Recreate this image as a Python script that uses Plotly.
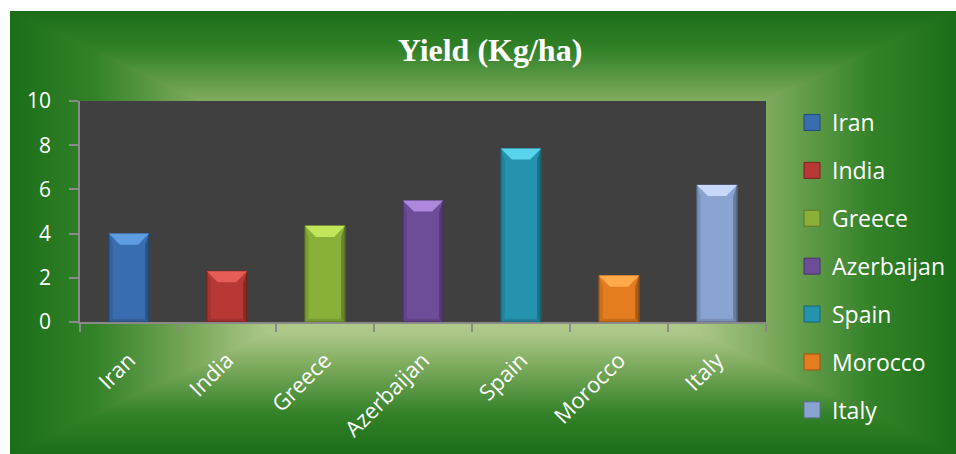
import base64
import plotly.graph_objects as go

countries = ["Iran", "India", "Greece", "Azerbaijan", "Spain", "Morocco", "Italy"]
yield_kg_ha = [4.0, 2.3, 4.35, 5.5, 7.85, 2.1, 6.2]
y_ticks = [0, 2, 4, 6, 8, 10]

body_colors = ["#3a6db0", "#b83836", "#8bb03a", "#6e4d98", "#2593ae", "#e47c20", "#8aa4d2"]
top_colors = ["#5e9de2", "#e65c57", "#c2e65a", "#ad88dd", "#5ad4ec", "#ffaa4a", "#c8d8f8"]
edge_colors = ["#244a7c", "#7c2321", "#5d7726", "#4a3368", "#186478", "#9e5414", "#5d7092"]

# ---- background: rectangular "from centre" gradient as SVG ----
W, H = 946, 443
stops = [(0, "#1b6e18"), (0.18, "#338229"), (0.37, "#74a556"), (0.54, "#abc686"),
         (0.7, "#bcd29a"), (1, "#c4d8a4")]
def grad(gid, x1, y1, x2, y2):
    s = "".join(f'<stop offset="{o}" stop-color="{c}"/>' for o, c in stops)
    return (f'<linearGradient id="{gid}" gradientUnits="userSpaceOnUse" '
            f'x1="{x1}" y1="{y1}" x2="{x2}" y2="{y2}">{s}</linearGradient>')
cx, cy = W / 2, H / 2
def tri(pts, gid):
    return (f'<polygon points="{pts}" fill="url(#{gid})" stroke="url(#{gid})" '
            f'stroke-width="1.5" stroke-linejoin="round"/>')
svg = (f'<svg xmlns="http://www.w3.org/2000/svg" width="{W}" height="{H}" '
       f'viewBox="0 0 {W} {H}" preserveAspectRatio="none"><defs>'
       + grad("t", 0, 0, 0, cy) + grad("b", 0, H, 0, cy)
       + grad("l", 0, 0, cx, 0) + grad("r", W, 0, cx, 0) +
       '</defs>'
       f'<rect width="{W}" height="{H}" fill="#6a9f4e"/>'
       + tri(f"0,0 {W},0 {cx},{cy}", "t")
       + tri(f"0,{H} {W},{H} {cx},{cy}", "b")
       + tri(f"0,0 0,{H} {cx},{cy}", "l")
       + tri(f"{W},0 {W},{H} {cx},{cy}", "r")
       + '</svg>')
bg_src = "data:image/svg+xml;base64," + base64.b64encode(svg.encode()).decode()

fig = go.Figure()
bar_w = 0.41
xs = list(range(len(countries)))
for i, (c, v) in enumerate(zip(countries, yield_kg_ha)):
    fig.add_trace(go.Bar(x=[i], y=[v], width=bar_w, name=c, showlegend=False,
                         marker=dict(color=body_colors[i],
                                     line=dict(color=edge_colors[i], width=1))))
for i, c in enumerate(countries):
    fig.add_trace(go.Scatter(x=[None], y=[None], mode="markers", name=c,
                             legendgroup=c,
                             marker=dict(symbol="square", size=16, color=body_colors[i],
                                         line=dict(color=edge_colors[i], width=1))))

# dark plot area drawn above the background image
shapes = [dict(type="rect", xref="paper", yref="paper", x0=0, x1=1, y0=0, y1=1,
               layer="below", line=dict(width=0), fillcolor="#404040")]
hw = bar_w / 2
dx_top, dy_top = 0.112, 0.5
dx_side, dy_bot = 0.04, 0.15
for i, v in enumerate(yield_kg_ha):
    l, r = i - hw, i + hw
    shapes.append(dict(type="path", xref="x", yref="y", layer="above", line=dict(width=0),
                       path=f"M{l},0 L{l},{v} L{l+dx_side},{v-dy_top} L{l+dx_side},{dy_bot} Z",
                       fillcolor="rgba(0,0,0,0.10)"))
    shapes.append(dict(type="path", xref="x", yref="y", layer="above", line=dict(width=0),
                       path=f"M{r},0 L{r},{v} L{r-dx_side},{v-dy_top} L{r-dx_side},{dy_bot} Z",
                       fillcolor="rgba(0,0,0,0.25)"))
    shapes.append(dict(type="path", xref="x", yref="y", layer="above", line=dict(width=0),
                       path=f"M{l},0 L{r},0 L{r-dx_side},{dy_bot} L{l+dx_side},{dy_bot} Z",
                       fillcolor="rgba(0,0,0,0.12)"))
    shapes.append(dict(type="path", xref="x", yref="y", layer="above", line=dict(width=0),
                       path=f"M{l},{v} L{r},{v} L{r-dx_top},{v-dy_top} L{l+dx_top},{v-dy_top} Z",
                       fillcolor=top_colors[i]))

axis_col = "#8a8a8a"
fig.update_layout(
    width=956, height=454,
    margin=dict(l=80, r=190, t=101, b=132, autoexpand=False),
    paper_bgcolor="white",
    plot_bgcolor="#404040",
    barmode="overlay",
    showlegend=True,
    title=dict(text="<b>Yield (Kg/ha)</b>", xref="container", yref="container",
               x=490 / 956, y=1 - 50 / 454, xanchor="center", yanchor="middle",
               font=dict(family="Liberation Serif", size=32, color="white")),
    legend=dict(xref="container", yref="container",
                x=792 / 956, xanchor="left", y=1 - 101 / 454, yanchor="top",
                font=dict(family="Open Sans", size=23, color="white"),
                tracegroupgap=15, bgcolor="rgba(0,0,0,0)", itemwidth=30,
                maxheight=420),
    xaxis=dict(range=[-0.5, len(countries) - 0.5], tickmode="array", tickvals=xs,
               ticktext=countries, tickangle=-45, ticks="", showgrid=False, zeroline=False,
               showline=True, linecolor=axis_col, linewidth=1.5, automargin=False,
               tickfont=dict(family="Open Sans", size=22, color="white"),
               ticklabelstandoff=15,
               minor=dict(tickmode="array",
                          tickvals=[i - 0.5 for i in range(len(countries) + 1)],
                          ticks="outside", ticklen=8, tickwidth=1.5, tickcolor=axis_col,
                          showgrid=False)),
    yaxis=dict(range=[0, 10], tickmode="array", tickvals=y_ticks, ticks="outside",
               ticklen=9, tickwidth=1.5, tickcolor=axis_col, showgrid=False,
               zeroline=False, showline=True, linecolor=axis_col, linewidth=1.5,
               automargin=False,
               tickfont=dict(family="Open Sans", size=21, color="white"),
               ticklabelstandoff=14),
    shapes=shapes,
    images=[dict(source=bg_src, xref="paper", yref="paper",
                 x=(10 - 80) / 686, y=(322 - 11) / 221,
                 sizex=W / 686, sizey=H / 221, sizing="stretch",
                 xanchor="left", yanchor="top", layer="below")],
)

fig.write_html("out.html",
               config={"displayModeBar": False},
               post_script="document.body.style.margin='0';"
                           "document.body.style.overflow='hidden';")
